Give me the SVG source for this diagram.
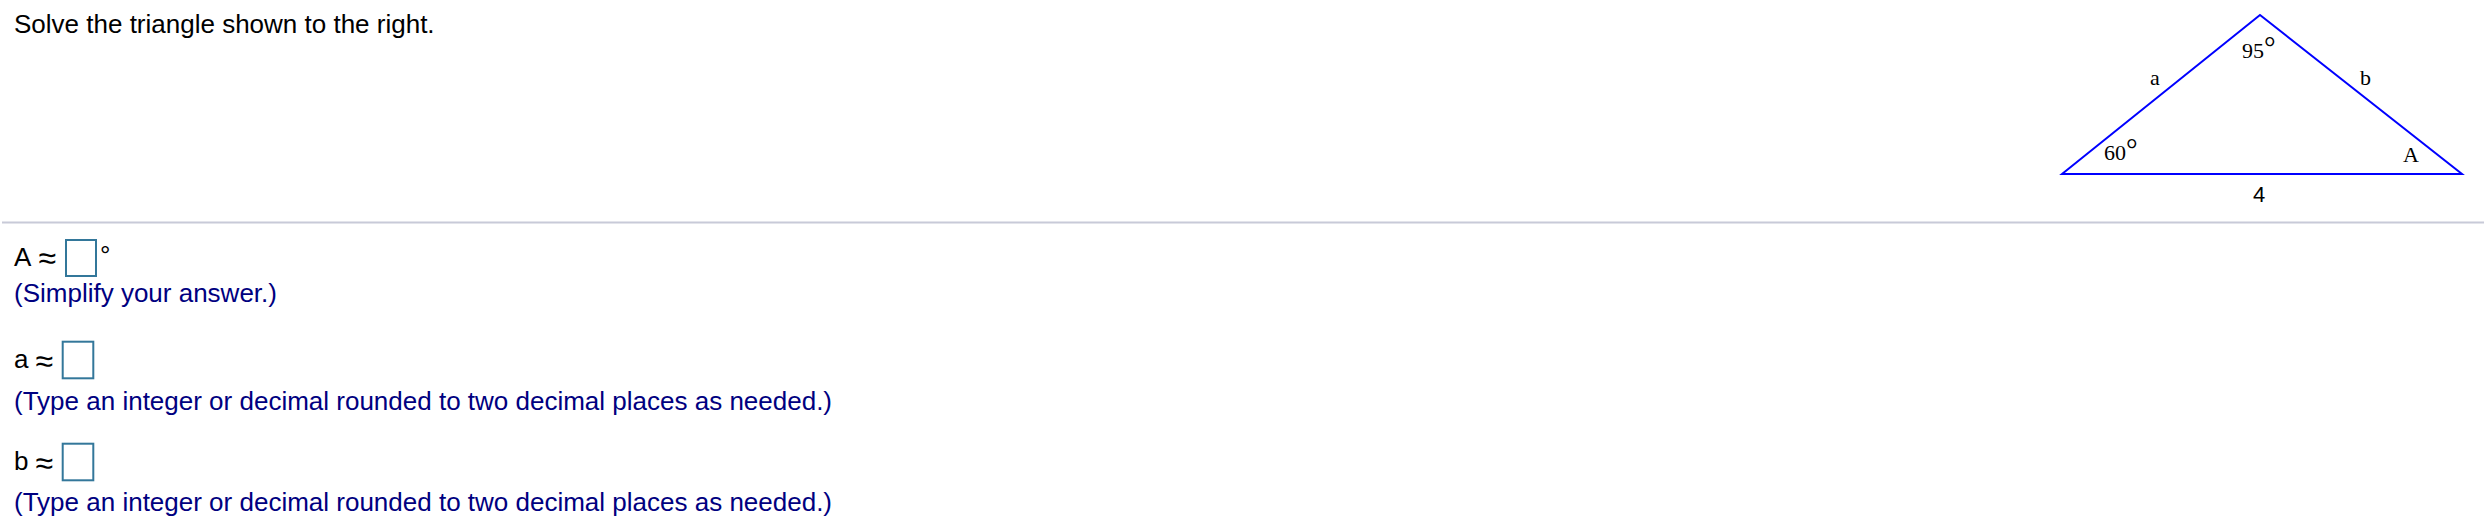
<svg xmlns="http://www.w3.org/2000/svg" width="2484" height="530" viewBox="0 0 2484 530">
<style>
.q{font-family:"Liberation Sans",Arial,sans-serif;font-size:26px;fill:#000}
.ap{font-family:"Liberation Sans",Arial,sans-serif;font-size:32px;fill:#000}
.h{font-family:"Liberation Sans",Arial,sans-serif;font-size:26px;fill:#000080}
.tl{font-family:"Liberation Serif","Times New Roman",serif;font-size:22px;fill:#000}
.box{fill:#fff;stroke:#33779a;stroke-width:2}
.tri{fill:none;stroke:#0000ff;stroke-width:2;stroke-linejoin:miter}
</style>
<rect width="2484" height="530" fill="#fff"/>
<text id="title" class="q" x="14" y="33">Solve the triangle shown to the right.</text>
<line id="separator" x1="2" y1="222.5" x2="2484" y2="222.5" stroke="#c8cad8" stroke-width="2"/>

<g id="triangle">
  <polygon class="tri" points="2062,174 2260,15 2462,174"/>
  <text class="tl" x="2242" y="57.5">95<tspan font-size="29" dy="-1">°</tspan></text>
  <text class="tl" x="2104" y="160">60<tspan font-size="29" dy="-1">°</tspan></text>
  <text class="tl" x="2150" y="85">a</text>
  <text class="tl" x="2360" y="85">b</text>
  <text class="tl" x="2403" y="161.5" font-size="23">A</text>
  <text x="2253" y="201.5" font-family="Liberation Sans,Arial,sans-serif" font-size="22">4</text>
</g>

<g id="answer-A">
  <text class="q" x="14" y="265.5">A</text>
  <text class="ap" x="38.5" y="269">≈</text>
  <rect class="box" x="66" y="240" width="30" height="36"/>
  <text class="q" x="100" y="264" font-size="29">°</text>
  <text class="h" x="14" y="302">(Simplify your answer.)</text>
</g>

<g id="answer-a">
  <text class="q" x="14" y="368">a</text>
  <text class="ap" x="35.5" y="371.5">≈</text>
  <rect class="box" x="62.7" y="341.7" width="30.6" height="36.6"/>
  <text class="h" x="14" y="410">(Type an integer or decimal rounded to two decimal places as needed.)</text>
</g>

<g id="answer-b">
  <text class="q" x="14" y="470">b</text>
  <text class="ap" x="35.5" y="473.5">≈</text>
  <rect class="box" x="62.7" y="443.7" width="30.6" height="36.6"/>
  <text class="h" x="14" y="511">(Type an integer or decimal rounded to two decimal places as needed.)</text>
</g>
</svg>
